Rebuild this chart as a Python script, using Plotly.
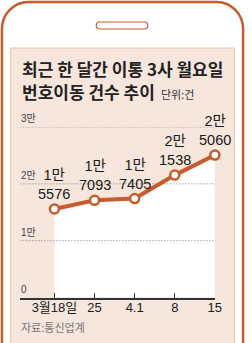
import plotly.graph_objects as go

# ---- data ----
categories = ["3월18일", "25", "4.1", "8", "15"]
values = [15576, 17093, 17405, 21538, 25060]
value_labels = ["1만<br>5576", "1만<br>7093", "1만<br>7405", "2만<br>1538", "2만<br>5060"]
ytick_vals = [0, 10000, 20000, 30000]
ytick_text = ["0", "1만", "2만", "3만"]
title_line1 = "최근 한 달간 이통 3사 월요일"
title_line2 = "번호이동 건수 추이"
unit_text = "단위:건"
source_text = "자료:통신업계"

W, H = 252, 343
ORANGE = "#c95a2c"
PEACH = "#f6e6dc"
KFONT = "Noto Sans CJK KR"
NFONT = "Liberation Sans, Noto Sans CJK KR"


def px(x):
    return x / W


def py(y):
    return 1 - y / H


xs = list(range(len(categories)))
x_left = -35 / 41.25
x_range = [x_left, len(categories) - 1]

fig = go.Figure()

# white area under the line
fig.add_trace(go.Scatter(x=xs, y=values, mode="none", fill="tozeroy",
                         fillcolor="white", hoverinfo="skip", showlegend=False))
# dotted gridlines above the fill, below the line
for v in ytick_vals[1:]:
    fig.add_trace(go.Scatter(x=x_range, y=[v, v], mode="lines",
                             line=dict(color="#7a7a7a", width=1, dash="1px,2px"),
                             hoverinfo="skip", showlegend=False))
# main line
fig.add_trace(go.Scatter(x=xs, y=values, mode="lines+markers",
                         line=dict(color=ORANGE, width=4),
                         marker=dict(size=9, color="white", line=dict(color=ORANGE, width=2.5)),
                         cliponaxis=False, showlegend=False))


def rounded_top_path(x0, y0, x1, y1, r):
    k = 0.5523 * r
    d = f"M {px(x0)} {py(y1)} L {px(x0)} {py(y0 + r)} "
    d += f"C {px(x0)} {py(y0 + r - k)} {px(x0 + r - k)} {py(y0)} {px(x0 + r)} {py(y0)} "
    d += f"L {px(x1 - r)} {py(y0)} "
    d += f"C {px(x1 - r + k)} {py(y0)} {px(x1)} {py(y0 + r - k)} {px(x1)} {py(y0 + r)} "
    d += f"L {px(x1)} {py(y1)}"
    return d


def pill_path(x0, y0, x1, y1):
    r = (y1 - y0) / 2
    k = 0.5523 * r
    cy = (y0 + y1) / 2
    d = f"M {px(x0 + r)} {py(y0)} L {px(x1 - r)} {py(y0)} "
    d += f"C {px(x1 - r + k)} {py(y0)} {px(x1)} {py(cy - k)} {px(x1)} {py(cy)} "
    d += f"C {px(x1)} {py(cy + k)} {px(x1 - r + k)} {py(y1)} {px(x1 - r)} {py(y1)} "
    d += f"L {px(x0 + r)} {py(y1)} "
    d += f"C {px(x0 + r - k)} {py(y1)} {px(x0)} {py(cy + k)} {px(x0)} {py(cy)} "
    d += f"C {px(x0)} {py(cy - k)} {px(x0 + r - k)} {py(y0)} {px(x0 + r)} {py(y0)} Z"
    return d


shapes = [
    dict(type="path", xref="paper", yref="paper", path=rounded_top_path(2, 2, 250, 350, 27),
         line=dict(color=ORANGE, width=2.5), layer="below"),
    dict(type="rect", xref="paper", yref="paper", x0=px(11), x1=px(241), y0=py(345), y1=py(48),
         fillcolor=PEACH, line=dict(color="#e6c2ad", width=1), layer="below"),
    dict(type="path", xref="paper", yref="paper", path=pill_path(99, 22, 152, 29),
         fillcolor="white", line=dict(color=ORANGE, width=1.2), layer="below"),
]

annotations = [
    dict(text=f"<b>{title_line1}</b>", xref="paper", yref="paper", x=px(21), y=py(68),
         xanchor="left", yanchor="middle", showarrow=False,
         font=dict(family=KFONT, size=17, color="#222")),
    dict(text=f"<b>{title_line2}</b>", xref="paper", yref="paper", x=px(21), y=py(91),
         xanchor="left", yanchor="middle", showarrow=False,
         font=dict(family=KFONT, size=17, color="#222")),
    dict(text=unit_text, xref="paper", yref="paper", x=px(164), y=py(94),
         xanchor="left", yanchor="middle", showarrow=False,
         font=dict(family=KFONT, size=11, color="#333")),
    dict(text=source_text, xref="paper", yref="paper", x=px(20), y=py(327),
         xanchor="left", yanchor="middle", showarrow=False,
         font=dict(family=KFONT, size=11, color="#777")),
]
for v, t in zip(ytick_vals, ytick_text):
    annotations.append(dict(text=t, xref="paper", yref="y", x=px(20), y=v,
                            xanchor="left", yanchor="bottom", yshift=1, showarrow=False,
                            font=dict(family=NFONT, size=10, color="#444")))
for x, v, t in zip(xs, values, value_labels):
    annotations.append(dict(text=t, x=x, y=v, xanchor="center", yanchor="bottom",
                            yshift=5, showarrow=False,
                            font=dict(family=NFONT, size=14.5, color="#1a1a1a")))

fig.update_layout(
    width=W, height=H, margin=dict(l=0, r=0, t=0, b=0),
    paper_bgcolor="white", plot_bgcolor="rgba(0,0,0,0)",
    shapes=shapes, annotations=annotations, showlegend=False,
    xaxis=dict(domain=[px(21), px(221)], range=x_range, tickvals=xs, ticktext=categories,
               showgrid=False, zeroline=False, showline=True, linecolor="#333", linewidth=1.5,
               ticks="inside", ticklen=5, tickcolor="#333", tickwidth=1, ticklabelstandoff=-3,
               tickfont=dict(family=NFONT, size=13, color="#1a1a1a"), fixedrange=True),
    yaxis=dict(domain=[py(297.5), py(127)], range=[0, 30000], showgrid=False,
               zeroline=False, showline=False, showticklabels=False, fixedrange=True),
)

fig.write_html("out.html")
